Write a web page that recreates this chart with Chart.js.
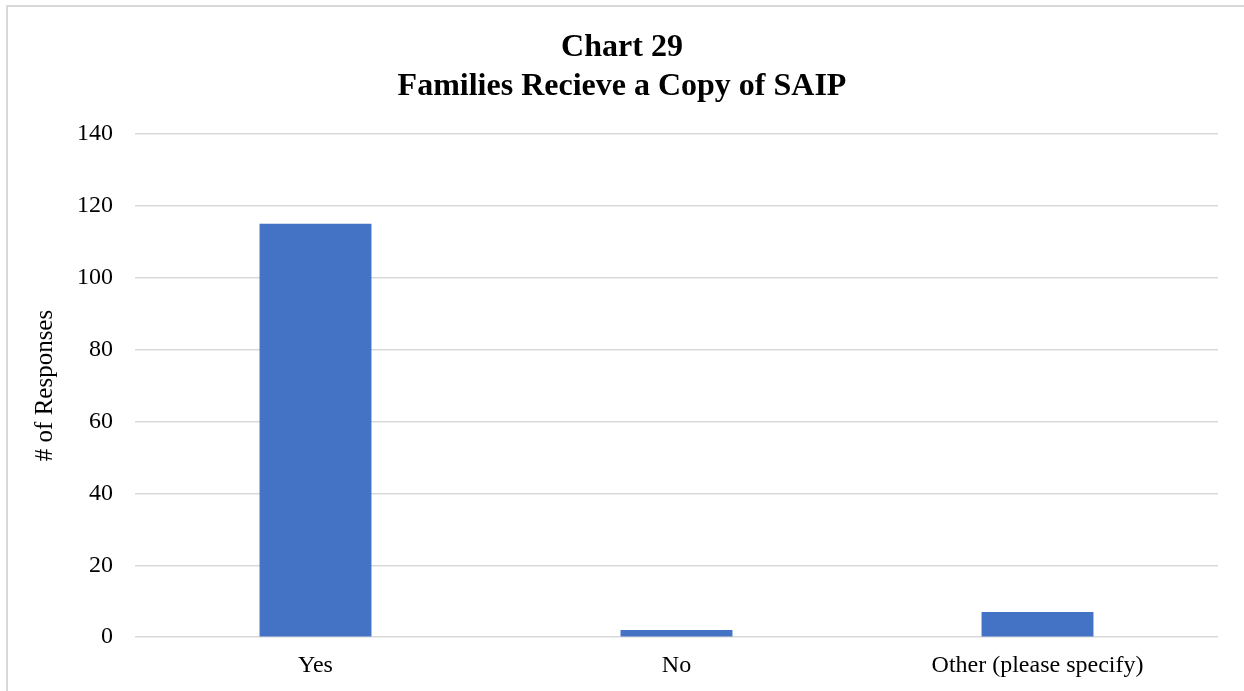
<!DOCTYPE html>
<html>
<head>
<meta charset="utf-8">
<script src="https://cdn.jsdelivr.net/npm/chart.js@4"></script>
<style>
  html, body { margin: 0; padding: 0; background: #fff; }
  #wrap { position: relative; width: 1244px; height: 691px; overflow: hidden; }
  #frame { position: absolute; left: 6px; top: 5px; width: 1300px; height: 800px;
           border: 2px solid #d9d9d9; box-sizing: border-box; }
  #chart { position: absolute; left: 0; top: 0; }
</style>
</head>
<body>
<div id="wrap">
  <div id="frame"></div>
  <canvas id="chart" width="1244" height="691"></canvas>
</div>
<script>
// dados do gráfico
const categorias = ['Yes', 'No', 'Other (please specify)'];
const respostas = [115, 2, 7];
const tituloLinhas = ['Chart 29', 'Families Recieve a Copy of SAIP'];

Chart.defaults.font.family = "'Liberation Serif', 'Times New Roman', serif";
Chart.defaults.color = '#000';

const ctx = document.getElementById('chart').getContext('2d');
new Chart(ctx, {
    type: 'bar',
    data: {
        labels: categorias,
        datasets: [{
            data: respostas,
            backgroundColor: '#4472c4',
            borderWidth: 0,
            categoryPercentage: 1,
            barPercentage: 0.31
        }]
    },
    options: {
        responsive: false,
        animation: false,
        layout: { padding: { left: 26, right: 26, top: 0, bottom: 5 } },
        plugins: {
            legend: { display: false },
            tooltip: { enabled: false },
            title: {
                display: true,
                text: tituloLinhas,
                font: { size: 32, weight: 'bold' },
                lineHeight: 1.16,
                padding: { top: 29, bottom: 28 }
            }
        },
        scales: {
            x: {
                grid: { display: false },
                border: { display: false },
                ticks: { font: { size: 24 }, padding: 6 }
            },
            y: {
                min: 0,
                max: 140,
                ticks: { stepSize: 20, font: { size: 24 }, padding: 22 },
                grid: { color: '#d9d9d9', lineWidth: 1.5, drawTicks: false },
                border: { display: false },
                title: { display: true, text: '# of Responses', font: { size: 25 }, padding: { bottom: 4 } },
                afterFit: (scale) => { scale.width = 109; }
            }
        }
    }
});
</script>
</body>
</html>
